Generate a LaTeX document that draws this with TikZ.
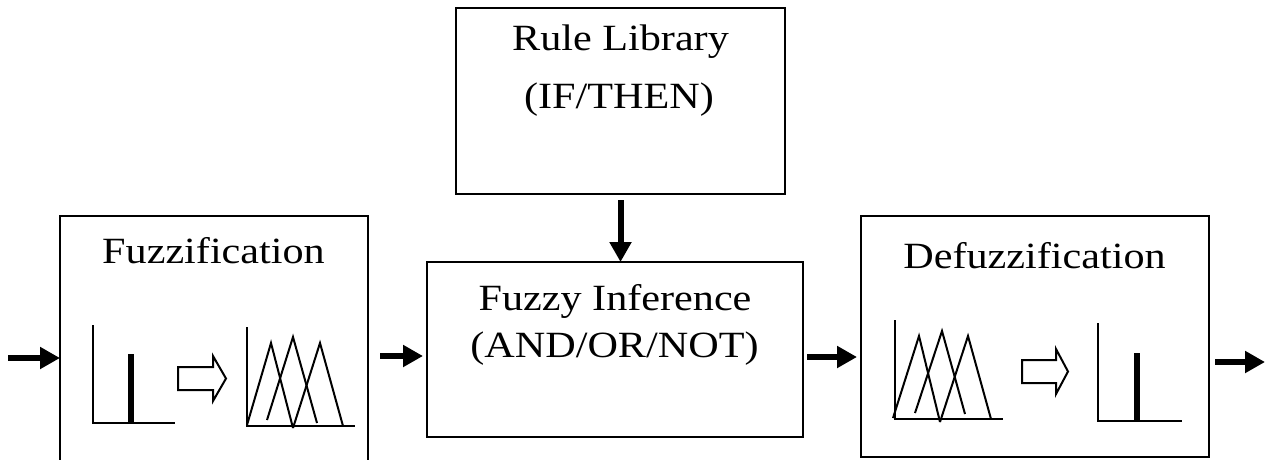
\documentclass[tikz,border=0pt]{standalone}
\usepackage{fontspec}
\setmainfont[FakeStretch=1.14]{Liberation Serif}
\usetikzlibrary{arrows.meta}
\begin{document}
\begin{tikzpicture}[x=1pt,y=-1pt,
  block/.style={draw,line width=2pt,inner sep=0pt,outer sep=0pt},
  lbl/.style={anchor=base,inner sep=0pt,font=\fontsize{37}{42}\selectfont},
  flow/.style={line width=6pt,-{Triangle[length=20pt,width=21pt]}},
  axis/.style={line width=2.5pt,line join=miter},
  tri/.style={line width=2pt},
  spike/.style={line width=6pt},
  hollow/.style={line width=2pt,line join=miter}]
\useasboundingbox (0,0) rectangle (1265,459);
\clip (0,0) rectangle (1265,459);

% processing blocks
\node[block,minimum width=329pt,minimum height=186pt] (rule)   at (620.5,101) {};
\node[block,minimum width=376pt,minimum height=175pt] (infer)  at (615,349.5) {};
\node[block,minimum width=308pt,minimum height=260pt] (fuzz)   at (214,346) {};
\node[block,minimum width=348pt,minimum height=241pt] (defuzz) at (1035,336.5) {};

% block titles
\node[lbl] (ruleA)  at (620.5,50) {Rule Library};
\node[lbl] (ruleB)  at (619,108) {(IF/THEN)};
\node[lbl] (inferA) at (615,310) {Fuzzy Inference};
\node[lbl] (inferB) at (614.5,357) {(AND/OR/NOT)};
\node[lbl] (fuzzT)  at (213.5,263) {Fuzzification};
\node[lbl] (defuzzT) at (1034.5,268) {Defuzzification};

% signal flow
\coordinate (inA)  at (8,358);
\coordinate (mA)   at (380,356);
\coordinate (mB)   at (807,357);
\coordinate (outA) at (1265,362);
\draw[flow] (inA) -- (fuzz.west |- inA);
\draw[flow] (mA) -- ([xshift=-4pt]infer.west |- mA);
\draw[flow] (mB) -- ([xshift=-4pt]defuzz.west |- mB);
\draw[flow] ([xshift=6pt]defuzz.east |- outA) -- (outA);
\draw[flow] ([yshift=-6pt]rule.south) -- (rule.south |- infer.north);

% fuzzification: crisp value -> membership functions
\draw[axis] (93,325) -- (93,423) -- (175,423);
\draw[spike] (131,354) -- (131,423);
\draw[hollow] (178,367) -- (213,367) -- (213,356) -- (226,378.5) -- (213,401) -- (213,390) -- (178,390) -- cycle;
\draw[axis] (247,327) -- (247,426) -- (355,426);
\draw[tri] (247,425) -- (271,343) -- (293,428);
\draw[tri] (267,420) -- (293,337) -- (317,423);
\draw[tri] (293,428) -- (320,343) -- (343,426);

% defuzzification: membership functions -> crisp value
\draw[axis] (895,320) -- (895,419) -- (1003,419);
\draw[tri] (893,418) -- (919,336) -- (940,422);
\draw[tri] (915,413) -- (942,331) -- (965,414);
\draw[tri] (940,422) -- (968,336) -- (991,419);
\draw[hollow] (1022,360) -- (1056,360) -- (1056,349) -- (1068,371.5) -- (1056,394) -- (1056,383) -- (1022,383) -- cycle;
\draw[axis] (1098,323) -- (1098,421) -- (1182,421);
\draw[spike] (1137,353) -- (1137,421);
\end{tikzpicture}
\end{document}
